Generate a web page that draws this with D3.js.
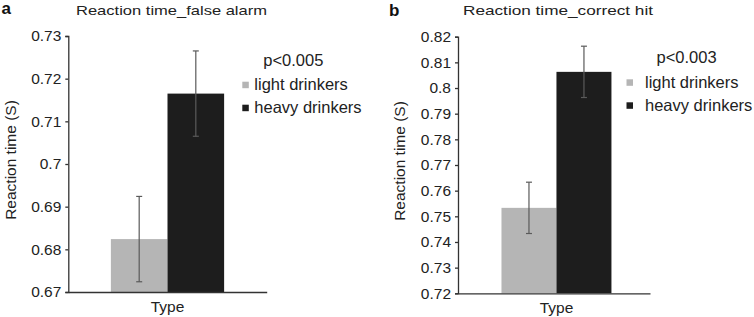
<!DOCTYPE html>
<html>
<head>
<meta charset="utf-8">
<script src="https://cdn.jsdelivr.net/npm/d3@7"></script>
<style>
  body { margin: 0; background: #fff; }
  svg { display: block; font-family: 'Liberation Sans', Arial, sans-serif; }
  .tick text { font-size: 15.5px; fill: #222; font-family: 'Liberation Sans', Arial, sans-serif; }
  .domain { stroke: #333; stroke-width: 1.3; }
  .tick line { stroke: #333; stroke-width: 1.3; }
</style>
</head>
<body>
<svg id="chart" width="754" height="317"></svg>
<script>
const groups = ['light drinkers', 'heavy drinkers']
const category = 'Type'
const yLabel = 'Reaction time (S)'

const titleA = 'Reaction time_false alarm'
const pValueA = 'p<0.005'
const meansA = [0.6824, 0.7165]
const errorsA = [0.01, 0.01]
const ticksA = [0.67, 0.68, 0.69, 0.70, 0.71, 0.72, 0.73]

const titleB = 'Reaction time_correct hit'
const pValueB = 'p<0.003'
const meansB = [0.7533, 0.8063]
const errorsB = [0.01, 0.01]
const ticksB = [0.72, 0.73, 0.74, 0.75, 0.76, 0.77, 0.78, 0.79, 0.80, 0.81, 0.82]

const colors = ['#b5b5b5', '#1d1d1d']

const svg = d3.select('#chart')

const drawPanel = (opts) => {
  const { letter, title, pValue, means, errors, ticks, layout } = opts
  const innerWidth = layout.right - layout.left
  const innerHeight = layout.bottom - layout.top

  const g = svg.append('g').
    attr('transform', `translate(${layout.left}, ${layout.top})`)

  const yScale = d3.scaleLinear().
    domain(d3.extent(ticks)).
    range([innerHeight, 0])

  const xOuter = d3.scaleBand().
    domain([category]).
    range([0, innerWidth]).
    paddingInner(0).
    paddingOuter(layout.padding).
    align(layout.align)

  const xInner = d3.scaleBand().
    domain(groups).
    range([xOuter(category), xOuter(category) + xOuter.bandwidth()])

  const data = groups.map((k, i) => ({ key: k, mean: means[i], err: errors[i], color: colors[i] }))

  g.selectAll('.bar').
    data(data).
    enter().
    append('rect').
    attr('class', 'bar').
    attr('x', d => xInner(d.key)).
    attr('width', xInner.bandwidth()).
    attr('y', d => yScale(d.mean)).
    attr('height', d => innerHeight - yScale(d.mean)).
    attr('fill', d => d.color)

  // error bars
  const eb = g.selectAll('.err').
    data(data).
    enter().
    append('g').
    attr('class', 'err').
    attr('stroke', '#5a5a5a').
    attr('stroke-width', 1.2)

  const cx = d => xInner(d.key) + xInner.bandwidth() / 2
  eb.append('line').
    attr('x1', cx).attr('x2', cx).
    attr('y1', d => yScale(d.mean + d.err)).
    attr('y2', d => yScale(d.mean - d.err))
  eb.append('line').
    attr('x1', d => cx(d) - 3).attr('x2', d => cx(d) + 3).
    attr('y1', d => yScale(d.mean + d.err)).
    attr('y2', d => yScale(d.mean + d.err))
  eb.append('line').
    attr('x1', d => cx(d) - 3).attr('x2', d => cx(d) + 3).
    attr('y1', d => yScale(d.mean - d.err)).
    attr('y2', d => yScale(d.mean - d.err))

  const yAxis = d3.axisLeft(yScale).
    tickValues(ticks).
    tickFormat(d => String(+d.toFixed(2))).
    tickSizeOuter(0).
    tickSize(3).
    tickPadding(4)

  g.append('g').call(yAxis)

  const xAxis = d3.axisBottom(xOuter).
    tickSize(0).
    tickSizeOuter(0).
    tickPadding(9)

  g.append('g').
    attr('transform', `translate(0, ${innerHeight})`).
    call(xAxis)

  g.append('text').
    attr('transform', `translate(${-58}, ${innerHeight / 2 - 4}) rotate(-90)`).
    attr('text-anchor', 'middle').
    attr('dy', '0.35em').
    attr('fill', '#222').
    style('font-size', '15.5px').
    text(yLabel)

  svg.append('text').
    attr('x', layout.letterX).
    attr('y', layout.letterY).
    attr('fill', '#111').
    style('font-size', '17px').
    style('font-weight', 'bold').
    text(letter)

  // the source title is stretched sideways: fixed length, smaller glyph height
  svg.append('text').
    attr('x', layout.titleX).
    attr('y', 14.5).
    attr('textLength', layout.titleLength).
    attr('lengthAdjust', 'spacingAndGlyphs').
    attr('fill', '#222').
    style('font-size', '13px').
    text(title)

  const leg = svg.append('g').
    attr('transform', `translate(${layout.legendX}, ${layout.legendY})`)

  leg.append('text').
    attr('x', layout.pOffset).
    attr('y', 0).
    attr('fill', '#222').
    style('font-size', '16.5px').
    text(pValue)

  const items = leg.selectAll('.item').
    data(data).
    enter().
    append('g').
    attr('class', 'item').
    attr('transform', (d, i) => `translate(0, ${24.5 + i * 23})`)

  items.append('rect').
    attr('x', 0).
    attr('y', -8.5).
    attr('width', 6.5).
    attr('height', 6.5).
    attr('fill', d => d.color)

  items.append('text').
    attr('x', layout.textOffset).
    attr('y', 0).
    attr('fill', '#222').
    style('font-size', '16.5px').
    text(d => d.key)
}

drawPanel({
  letter: 'a', title: titleA, pValue: pValueA,
  means: meansA, errors: errorsA, ticks: ticksA,
  layout: {
    left: 68.3, right: 266.7, top: 36, bottom: 292,
    padding: 0.376, align: 0.5,
    letterX: 1.5, letterY: 14, titleX: 76, titleLength: 191,
    legendX: 242.3, legendY: 65.7, pOffset: 21, textOffset: 12,
  },
})

drawPanel({
  letter: 'b', title: titleB, pValue: pValueB,
  means: meansB, errors: errorsB, ticks: ticksB,
  layout: {
    left: 458, right: 650, top: 36.7, bottom: 293.3,
    padding: 0.373, align: 0.53,
    letterX: 389, letterY: 16, titleX: 463, titleLength: 190,
    legendX: 626.5, legendY: 63.3, pOffset: 30, textOffset: 18.5,
  },
})
</script>
</body>
</html>
